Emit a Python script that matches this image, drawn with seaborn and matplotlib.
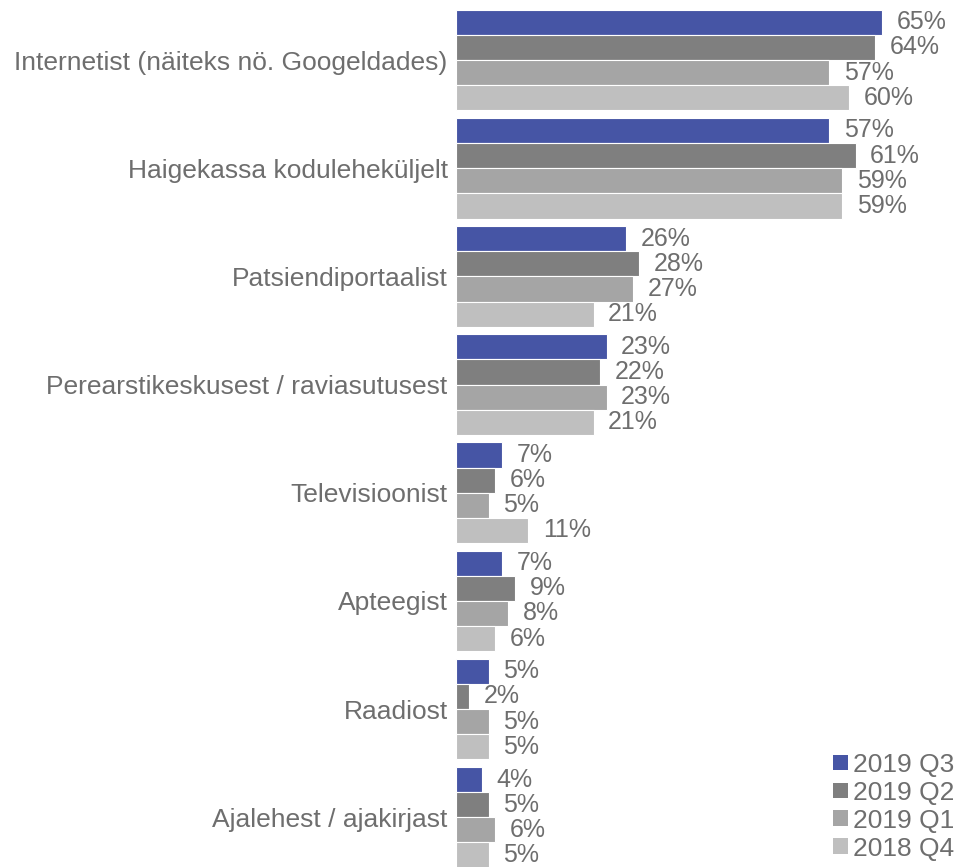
import matplotlib
matplotlib.use("Agg")
import matplotlib.pyplot as plt
import seaborn as sns
import pandas as pd
from matplotlib.patches import Patch

categories = ["Internetist (näiteks nö. Googeldades)", "Haigekassa koduleheküljelt",
              "Patsiendiportaalist", "Perearstikeskusest / raviasutusest",
              "Televisioonist", "Apteegist", "Raadiost", "Ajalehest / ajakirjast"]
series = ["2019 Q3", "2019 Q2", "2019 Q1", "2018 Q4"]
q3_2019 = [65, 57, 26, 23, 7, 7, 5, 4]
q2_2019 = [64, 61, 28, 22, 6, 9, 2, 5]
q1_2019 = [57, 59, 27, 23, 5, 8, 5, 6]
q4_2018 = [60, 59, 21, 21, 11, 6, 5, 5]
colors = ["#4655A5", "#7F7F7F", "#A5A5A5", "#BFBFBF"]

rows = []
for s, vals in zip(series, [q3_2019, q2_2019, q1_2019, q4_2018]):
    for c, v in zip(categories, vals):
        rows.append({"cat": c, "series": s, "val": v})
df = pd.DataFrame(rows)

sns.set_theme(style="white")
plt.rcParams["font.family"] = ["Liberation Sans", "DejaVu Sans"]
txt = "#6E6E6E"

fig = plt.figure(figsize=(9.59, 8.67), dpi=100)
ax = fig.add_axes([456/959, 0, 1 - 456/959, 1])
sns.barplot(data=df, y="cat", x="val", hue="series", order=categories,
            hue_order=series, palette=colors, orient="h", width=0.93,
            edgecolor="white", linewidth=0.8, saturation=1, ax=ax, legend=False)

scale = 6.55
ax.set_xlim(0, (959 - 456) / scale)
ax.set_ylim(7.46, -0.555)
for cont in ax.containers:
    ax.bar_label(cont, labels=[f"{int(round(b.get_width()))}%" for b in cont],
                 padding=10.5, fontsize=18, color=txt)

ax.set_xlabel("")
ax.set_ylabel("")
ax.set_xticks([])
ax.tick_params(axis="y", length=0, pad=6, labelsize=19, labelcolor=txt)
for sp in ax.spines.values():
    sp.set_visible(False)

handles = [Patch(facecolor=c, edgecolor="none") for c in colors]
fig.legend(handles, series, loc="lower right", bbox_to_anchor=(1.009, -0.008),
           frameon=False, fontsize=19, labelcolor=txt, handlelength=0.55,
           handleheight=0.55, handletextpad=0.2, labelspacing=0.15,
           borderaxespad=0.1)

fig.savefig("out.png", dpi=100)
